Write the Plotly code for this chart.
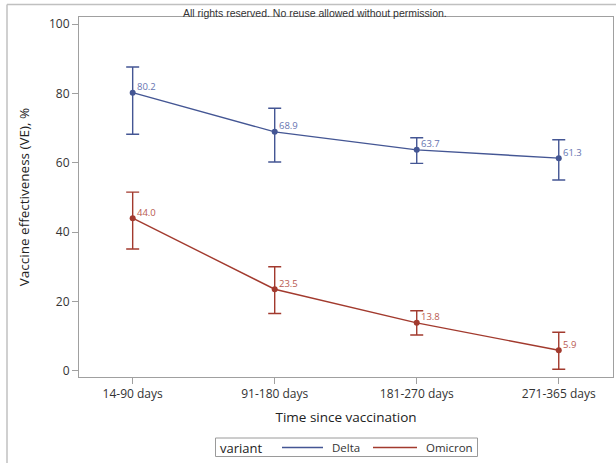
import plotly.graph_objects as go

categories = ["14-90 days", "91-180 days", "181-270 days", "271-365 days"]
delta_ve = [80.2, 68.9, 63.7, 61.3]
delta_upper = [87.6, 75.7, 67.2, 66.6]
delta_lower = [68.2, 60.2, 59.8, 55.0]
omicron_ve = [44.0, 23.5, 13.8, 5.9]
omicron_upper = [51.5, 30.0, 17.3, 11.1]
omicron_lower = [35.1, 16.5, 10.3, 0.4]
y_ticks = [0, 20, 40, 60, 80, 100]
legend_title = "variant"
series_names = ["Delta", "Omicron"]

DELTA_C = "#445694"
OMI_C = "#A23A2E"
DELTA_LBL = "#6673b0"
OMI_LBL = "#b85a50"
FONT = "Open Sans"

# layout geometry in pixels
W, H = 616, 463
ML, MR, MT, MB = 79, 3, 17, 86
PW, PH = W - ML - MR, H - MT - MB


def px(xp):
    return (xp - ML) / PW


def py(yp):
    return (H - MB - yp) / PH


fig = go.Figure()


def add_series(name, vals, up, lo, color):
    fig.add_trace(go.Scatter(
        x=categories, y=vals, name=name, mode="lines+markers", showlegend=False,
        line=dict(color=color, width=1.4),
        marker=dict(color=color, size=6),
        error_y=dict(type="data", symmetric=False,
                     array=[u - v for u, v in zip(up, vals)],
                     arrayminus=[v - l for v, l in zip(vals, lo)],
                     color=color, thickness=1.4, width=6.5),
    ))


add_series(series_names[0], delta_ve, delta_upper, delta_lower, DELTA_C)
add_series(series_names[1], omicron_ve, omicron_upper, omicron_lower, OMI_C)

annotations = []
for vals, col in ((delta_ve, DELTA_LBL), (omicron_ve, OMI_LBL)):
    for c, v in zip(categories, vals):
        annotations.append(dict(
            x=c, y=v, xref="x", yref="y", text=f"{v:.1f}", showarrow=False,
            xanchor="left", yanchor="middle", xshift=2, yshift=6,
            font=dict(family=FONT, size=9.5, color=col)))

annotations.append(dict(
    x=px(314.5), y=1, xref="paper", yref="paper", xanchor="center", yanchor="middle",
    yshift=4.5, showarrow=False,
    text="All rights reserved. No reuse allowed without permission.",
    font=dict(family="Liberation Sans", size=10.5, color="#333333")))

# manual legend (line-only keys, as in the original)
leg_y = 447.5
annotations.append(dict(x=px(218), y=py(leg_y), xref="paper", yref="paper",
                        xanchor="left", yanchor="middle", showarrow=False,
                        text=legend_title, font=dict(family=FONT, size=13, color="#222222")))
annotations.append(dict(x=px(330), y=py(leg_y), xref="paper", yref="paper",
                        xanchor="left", yanchor="middle", showarrow=False,
                        text=series_names[0], font=dict(family=FONT, size=11.5, color="#333333")))
annotations.append(dict(x=px(424), y=py(leg_y), xref="paper", yref="paper",
                        xanchor="left", yanchor="middle", showarrow=False,
                        text=series_names[1], font=dict(family=FONT, size=11.5, color="#333333")))

frame = "#a0a0a0"
shapes = [
    dict(type="line", xref="paper", yref="paper",
         x0=px(7), x1=px(616), y0=py(4.5), y1=py(4.5),
         line=dict(color="#c0c0c0", width=1.5)),
    dict(type="line", xref="paper", yref="paper",
         x0=px(7), x1=px(7), y0=py(4.5), y1=py(463),
         line=dict(color="#c0c0c0", width=1.5)),
    dict(type="rect", xref="paper", yref="paper",
         x0=px(215.5), x1=px(477.5), y0=py(438), y1=py(456.5),
         line=dict(color="#9a9a9a", width=1), fillcolor="white"),
    dict(type="line", xref="paper", yref="paper",
         x0=px(282), x1=px(323), y0=py(leg_y), y1=py(leg_y),
         line=dict(color=DELTA_C, width=1.3)),
    dict(type="line", xref="paper", yref="paper",
         x0=px(373), x1=px(417), y0=py(leg_y), y1=py(leg_y),
         line=dict(color=OMI_C, width=1.3)),
]

fig.update_layout(
    width=W, height=H,
    margin=dict(l=ML, r=MR, t=MT, b=MB, autoexpand=False),
    paper_bgcolor="white", plot_bgcolor="white",
    font=dict(family=FONT, color="#333333"),
    annotations=annotations,
    shapes=shapes,
    showlegend=False,
    xaxis=dict(
        type="category", categoryorder="array", categoryarray=categories,
        range=[-0.378, 3.382], automargin=False,
        showline=True, mirror=True, linecolor=frame, linewidth=1,
        ticks="outside", ticklen=6, tickcolor=frame, showgrid=False, zeroline=False,
        tickfont=dict(family=FONT, size=12, color="#333333"),
        title=dict(text="Time since vaccination", standoff=11,
                   font=dict(family=FONT, size=13.5, color="#222222")),
    ),
    yaxis=dict(
        range=[-1.82, 102.02], tickvals=y_ticks, automargin=False,
        showline=True, mirror=True, linecolor=frame, linewidth=1,
        ticks="outside", ticklen=6, tickcolor=frame, showgrid=False, zeroline=False,
        tickfont=dict(family=FONT, size=12, color="#333333"),
        title=dict(text="Vaccine effectiveness (VE), %", standoff=16,
                   font=dict(family=FONT, size=13.5, color="#222222")),
    ),
)

fig.write_html("out.html")
